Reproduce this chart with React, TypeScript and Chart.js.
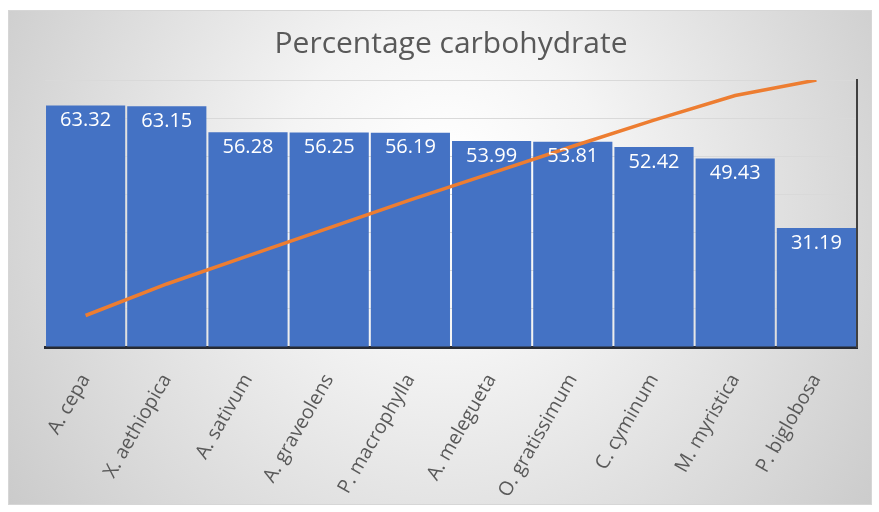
import React, { useEffect, useRef } from "react";
import { Chart, registerables } from "chart.js";

Chart.register(...registerables);

const species = [
  "A. cepa",
  "X. aethiopica",
  "A. sativum",
  "A. graveolens",
  "P. macrophylla",
  "A. melegueta",
  "O. gratissimum",
  "C. cyminum",
  "M. myristica",
  "P. biglobosa",
];

const carbohydrate = [63.32, 63.15, 56.28, 56.25, 56.19, 53.99, 53.81, 52.42, 49.43, 31.19];

// Cumulative share of the total (%), Pareto line
const cumulativePercent = [11.8, 23.6, 34.1, 44.6, 55.1, 65.1, 75.2, 85.0, 94.2, 100];

const W = 879;
const H = 512;

const backgroundPlugin = {
  id: "panelBackground",
  beforeDraw(chart: Chart) {
    const ctx = chart.ctx;
    ctx.save();
    ctx.fillStyle = "#ffffff";
    ctx.fillRect(0, 0, W, H);
    const x0 = 8, y0 = 10, x1 = 872, y1 = 505;
    const g = ctx.createRadialGradient(445, 170, 10, 445, 220, 520);
    g.addColorStop(0, "#ffffff");
    g.addColorStop(0.3, "#f4f4f4");
    g.addColorStop(1, "#cbcbcb");
    ctx.fillStyle = g;
    ctx.fillRect(x0, y0, x1 - x0, y1 - y0);
    ctx.strokeStyle = "#d6d6d6";
    ctx.lineWidth = 1;
    ctx.strokeRect(x0 + 0.5, y0 + 0.5, x1 - x0 - 1, y1 - y0 - 1);
    ctx.restore();
  },
};

const valueLabelPlugin = {
  id: "barValueLabels",
  afterDatasetsDraw(chart: Chart) {
    const ctx = chart.ctx;
    const meta = chart.getDatasetMeta(0);
    ctx.save();
    ctx.fillStyle = "#ffffff";
    ctx.font = '20px "Open Sans", sans-serif';
    ctx.textAlign = "center";
    ctx.textBaseline = "middle";
    meta.data.forEach((el: any, i: number) => {
      ctx.fillText(carbohydrate[i].toFixed(2), el.x, el.y + 15);
    });
    ctx.restore();
  },
};

export default function App() {
  const ref = useRef<HTMLCanvasElement | null>(null);

  useEffect(() => {
    if (!ref.current) return;
    const chart = new Chart(ref.current, {
      data: {
        labels: species,
        datasets: [
          {
            type: "bar",
            label: "Carbohydrate",
            data: carbohydrate,
            backgroundColor: "#4472c4",
            barPercentage: 0.975,
            categoryPercentage: 1,
            yAxisID: "y",
            order: 2,
          },
          {
            type: "line",
            label: "Cumulative %",
            data: cumulativePercent,
            borderColor: "#ed7d31",
            borderWidth: 3.5,
            pointRadius: 0,
            tension: 0,
            yAxisID: "y1",
            order: 1,
          },
        ],
      },
      options: {
        responsive: false,
        animation: false,
        layout: { padding: { left: 45, right: 22, top: 0, bottom: 0 } },
        plugins: {
          legend: { display: false },
          tooltip: { enabled: false },
          title: {
            display: true,
            text: "Percentage carbohydrate",
            color: "#595959",
            font: { family: '"Open Sans", sans-serif', size: 30, weight: "normal" },
            padding: { top: 26, bottom: 18 },
          },
        },
        scales: {
          x: {
            offset: true,
            grid: { display: false, drawTicks: false },
            border: { display: true, color: "#262a33", width: 3 },
            ticks: {
              autoSkip: false,
              minRotation: 60,
              maxRotation: 60,
              padding: 23,
              color: "#595959",
              font: { family: '"Open Sans", sans-serif', size: 19.5 },
            },
            afterFit(scale: any) {
              scale.height = 165;
            },
          },
          y: {
            position: "left",
            min: 0,
            max: 70,
            ticks: { display: false, stepSize: 10 },
            grid: { color: "#d9d9d9", lineWidth: 1, drawTicks: false },
            border: { display: false },
            afterFit(scale: any) {
              scale.width = 0;
            },
          },
          y1: {
            position: "right",
            min: 0,
            max: 100,
            ticks: { display: false },
            grid: { display: false, drawTicks: false },
            border: { display: true, color: "#404040", width: 2 },
            afterFit(scale: any) {
              scale.width = 0;
            },
          },
        },
      },
      plugins: [backgroundPlugin, valueLabelPlugin],
    } as any);
    return () => chart.destroy();
  }, []);

  return (
    <div style={{ position: "fixed", left: 0, top: 0, width: W, height: H }}>
      <canvas ref={ref} width={W} height={H} style={{ width: W, height: H }} />
    </div>
  );
}
